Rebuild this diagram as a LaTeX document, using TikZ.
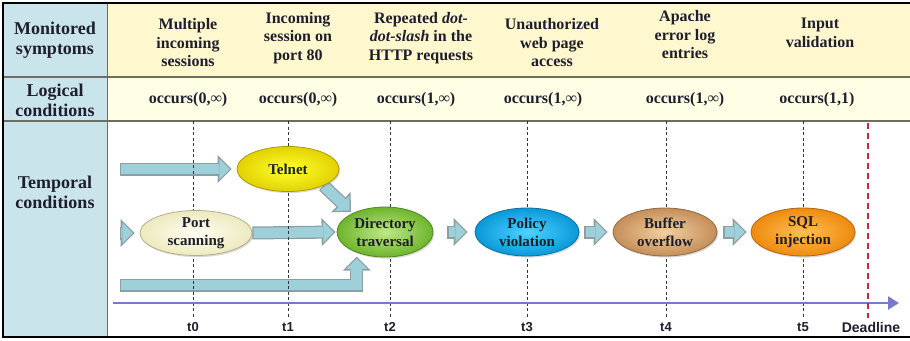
\documentclass[tikz,border=0pt]{standalone}
\usepackage{fontspec}
\setmainfont{Liberation Serif}[BoldFont={Liberation Serif Bold},ItalicFont={Liberation Serif Italic},BoldItalicFont={Liberation Serif Bold Italic}]
\setsansfont{Liberation Sans}
\usetikzlibrary{arrows.meta,calc,shadings,shadows,shapes.geometric,backgrounds}

\definecolor{sidecol}{HTML}{C9E5EB}
\definecolor{rowone}{HTML}{FFF8CF}
\definecolor{rowtwo}{HTML}{FFFFE6}
\definecolor{rulecol}{HTML}{6E6E60}
\definecolor{arrowfill}{HTML}{9DD0D8}
\definecolor{arrowedge}{HTML}{8C9EA2}
\definecolor{axiscol}{HTML}{7A78CC}
\definecolor{deadcol}{HTML}{C8283C}
\definecolor{textdark}{HTML}{1E1E2C}
\definecolor{telin}{HTML}{FFFF30}
\definecolor{telout}{HTML}{E2D200}
\definecolor{portin}{HTML}{FFFFF4}
\definecolor{portout}{HTML}{EDE9BE}
\definecolor{dirin}{HTML}{BEE88A}
\definecolor{dirout}{HTML}{6EB42C}
\definecolor{polin}{HTML}{4CD4FF}
\definecolor{polout}{HTML}{0A98D8}
\definecolor{bufin}{HTML}{F2CFA2}
\definecolor{bufout}{HTML}{C48E58}
\definecolor{sqlin}{HTML}{FFC050}
\definecolor{sqlout}{HTML}{EE8A10}

\begin{document}
\begin{tikzpicture}[x=1pt,y=-1pt,
  side/.style={font=\rmfamily\bfseries\fontsize{18}{20}\selectfont,align=center,text=textdark},
  head/.style={font=\rmfamily\bfseries\fontsize{16}{18.5}\selectfont,align=center,text=textdark},
  cond/.style={font=\rmfamily\bfseries\fontsize{16}{18}\selectfont,text=textdark},
  tlabel/.style={font=\sffamily\bfseries\fontsize{13}{15}\selectfont,text=textdark},
  tline/.style={black!80,line width=.6pt,dash pattern=on 3pt off 2.5pt},
  state/.style 2 args={ellipse,inner sep=0pt,minimum width=104pt,minimum height=48pt,
    shade,inner color=#1,outer color=#2,draw=#2!75!black,line width=.8pt,
    drop shadow={shadow xshift=1.2pt,shadow yshift=-1.6pt,opacity=.3},
    font=\rmfamily\bfseries\fontsize{15}{18}\selectfont,text=textdark,align=center},
  blockarrow/.style 2 args={line join=miter,
    preaction={draw=arrowedge,line width=13pt,shorten <=#1,shorten >=#2,
      -{Triangle[length=14pt,width=28pt,line width=0pt]}},
    draw=arrowfill,line width=10.5pt,shorten <=#1+1.2pt,shorten >=#2+1.8pt,
    -{Triangle[length=10.5pt,width=21pt,line width=0pt]}}]
  \useasboundingbox (0,0) rectangle (910,340);

  % states
  \node[state={telin}{telout},minimum width=102pt,minimum height=45pt] (telnet) at (288,169) {Telnet};
  \node[state={portin}{portout},minimum width=112pt,minimum height=45pt] (port) at (196,233) {Port\\scanning};
  \node[state={dirin}{dirout},minimum width=96pt,minimum height=50pt] (dir) at (385,232) {Directory\\traversal};
  \node[state={polin}{polout}] (policy) at (527,232) {Policy\\violation};
  \node[state={bufin}{bufout}] (buffer) at (665,232) {Buffer\\overflow};
  \node[state={sqlin}{sqlout}] (sql) at (803,232) {SQL\\injection};

  % table text
  \node[side] (symp) at (55,40) {Monitored\\symptoms};
  \node[side] (logic) at (55,100) {Logical\\conditions};
  \node[side] (temp) at (55,192) {Temporal\\conditions};

  \node[head] (s0) at (188,43) {Multiple\\incoming\\sessions};
  \node[head] (s1) at (298,38) {Incoming\\session on\\port 80};
  \node[head] (s2) at (421,38) {Repeated \textit{dot-}\\\textit{dot-slash} in the\\HTTP requests};
  \node[head] (s3) at (552,43) {Unauthorized\\web page\\access};
  \node[head] (s4) at (685,35) {Apache\\error log\\entries};
  \node[head] (s5) at (820,33) {Input\\validation};

  \node[cond] (c0) at (188,100) {occurs(0,∞)};
  \node[cond] (c1) at (298,100) {occurs(0,∞)};
  \node[cond] (c2) at (416,100) {occurs(1,∞)};
  \node[cond] (c3) at (543,100) {occurs(1,∞)};
  \node[cond] (c4) at (685,100) {occurs(1,∞)};
  \node[cond] (c5) at (817,100) {occurs(1,1)};

  \coordinate (inTelnet) at (120,169);
  \coordinate (inPort) at (120,233);
  \coordinate (inBottom) at (120,285);
  \coordinate (axStart) at (113,303);
  \coordinate (axEnd) at (899,303);
  \coordinate (deadTop) at (868,123);
  \coordinate (deadBot) at (868,318);

  \begin{scope}[on background layer]
    % rows and columns
    \fill[rowone] (4,4) rectangle (910,77);
    \fill[rowtwo] (4,77) rectangle (910,121);
    \fill[sidecol] (4,4) rectangle (107,337);
    \draw[rulecol,line width=1.2pt] (4,77) -- (910,77) (4,121) -- (910,121);
    \draw[rulecol,line width=1pt] (107,4) -- (107,337);
    \draw[black,line width=2.5pt] (910,3) -- (3,3) -- (3,337) -- (910,337);
    % arrows
    \draw[blockarrow={0pt}{5pt}] (inTelnet) -- (telnet.west);
    \draw[blockarrow={0pt}{5pt}] (inPort) -- (port.west);
    \draw[blockarrow={0pt}{1pt}] (port.east) -- (dir.west);
    \draw[blockarrow={0pt}{2pt}] (telnet.-25) -- (dir.150);
    \draw[blockarrow={0pt}{4pt}] (inBottom) -| (dir.-144);
    \draw[blockarrow={14pt}{7pt}] (dir.east) -- (policy.west);
    \draw[blockarrow={5pt}{5pt}] (policy.east) -- (buffer.west);
    \draw[blockarrow={6pt}{4pt}] (buffer.east) -- (sql.west);
    % time axis
    \foreach \x [count=\i from 0] in {193,288,390,527,666,803} {
      \draw[tline] (\x,121) -- (\x,318);
      \node[tlabel] (t\i) at (\x,327) {t\i};
    }
    \draw[axiscol,line width=2.2pt,-{Triangle[length=11pt,width=13pt]}] (axStart) -- (axEnd);
    \draw[deadcol,line width=1.6pt,dash pattern=on 6pt off 4pt] (deadTop) -- (deadBot);
  \end{scope}
  \node[tlabel,font=\sffamily\bfseries\fontsize{14}{16}\selectfont] (deadline) at (871,327) {Deadline};
\end{tikzpicture}
\end{document}
